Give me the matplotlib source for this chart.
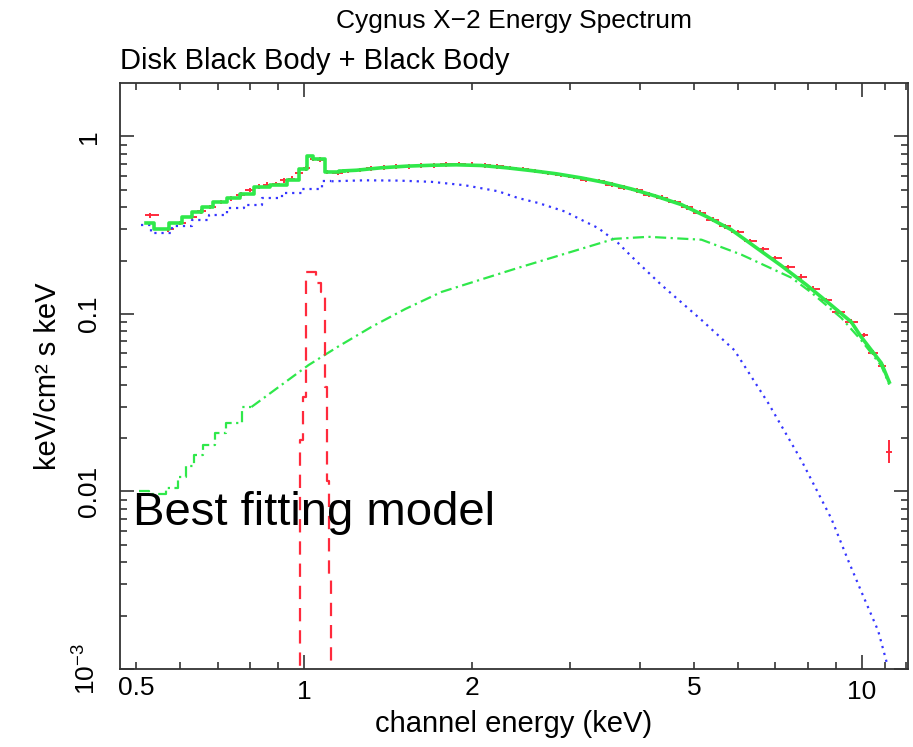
import matplotlib
matplotlib.use('Agg')
import matplotlib.pyplot as plt
from matplotlib.ticker import FixedLocator, NullFormatter

plt.rcParams['font.family'] = ['Liberation Sans', 'DejaVu Sans']
plt.rcParams['mathtext.fontset'] = 'custom'
plt.rcParams['mathtext.rm'] = 'Liberation Sans'

# total model (diskbb + bbody + gaussian), keV / flux
model_e = [0.521, 0.555, 0.591, 0.616, 0.642, 0.669, 0.704, 0.749, 0.789, 0.839,
           0.902, 0.960, 1.000, 1.023, 1.053, 1.132, 1.180, 1.242, 1.377, 1.526,
           1.692, 1.876, 2.080, 2.306, 2.557, 2.835, 3.143, 3.485, 3.864, 4.283,
           4.749, 5.265, 5.837, 6.471, 7.174, 7.954, 8.818, 9.576, 9.98, 10.40,
           10.84, 11.20]
model_f = [0.327, 0.301, 0.327, 0.353, 0.377, 0.402, 0.430, 0.452, 0.477, 0.522,
           0.536, 0.572, 0.652, 0.774, 0.751, 0.629, 0.640, 0.645, 0.666, 0.680,
           0.688, 0.692, 0.686, 0.666, 0.642, 0.616, 0.584, 0.548, 0.506, 0.460,
           0.413, 0.354, 0.298, 0.236, 0.187, 0.146, 0.112, 0.0901, 0.0741, 0.0626,
           0.0529, 0.0413]

# disk black body component
disk_e = [0.511, 0.555, 0.603, 0.655, 0.697, 0.757, 0.805, 0.875, 0.950, 1.031,
          1.120, 1.285, 1.475, 1.692, 1.942, 2.229, 2.420, 2.629, 2.934, 3.186,
          3.367, 3.657, 3.864, 4.37, 5.16, 5.91, 6.80, 7.79, 8.82, 9.46,
          10.0, 10.7, 11.1]
disk_f = [0.315, 0.287, 0.311, 0.340, 0.362, 0.397, 0.413, 0.452, 0.483, 0.508,
          0.559, 0.566, 0.564, 0.555, 0.531, 0.491, 0.450, 0.422, 0.378, 0.332,
          0.305, 0.251, 0.211, 0.146, 0.0925, 0.0625, 0.0314, 0.0150, 0.00703, 0.00407,
          0.00269, 0.00164, 0.00107]

# black body component
bb_e = [0.507, 0.548, 0.584, 0.603, 0.624, 0.647, 0.674, 0.711, 0.741, 0.805,
        1.019, 1.148, 1.321, 1.520, 1.764, 2.423, 3.602, 4.144, 5.16, 6.08,
        7.48, 8.12, 9.19, 9.98, 10.84, 11.2]
bb_f = [0.0100, 0.0097, 0.0105, 0.0120, 0.0140, 0.0160, 0.0182, 0.0213, 0.0242, 0.0299,
        0.0515, 0.0651, 0.0845, 0.1067, 0.133, 0.182, 0.265, 0.272, 0.262, 0.216,
        0.160, 0.132, 0.095, 0.071, 0.051, 0.040]

# gaussian line near 1 keV
gauss_e = [0.975, 0.993, 1.002, 1.019, 1.044, 1.062, 1.084, 1.095, 1.104, 1.113, 1.125]
gauss_f = [0.0008, 0.0194, 0.034, 0.173, 0.173, 0.150, 0.133, 0.039, 0.0115, 0.0034, 0.0008]

# observed spectrum
data_e = [0.529, 0.57, 0.60, 0.63, 0.655, 0.68, 0.71, 0.74, 0.77, 0.80,
          0.83, 0.86, 0.89, 0.92, 0.95, 0.98, 1.01, 1.04, 1.07, 1.10,
          1.15, 1.20, 1.26, 1.32, 1.39, 1.46, 1.54, 1.62, 1.71, 1.80,
          1.90, 2.00, 2.11, 2.22, 2.34, 2.47, 2.60, 2.74, 2.89, 3.05,
          3.21, 3.38, 3.56, 3.75, 3.95, 4.16, 4.38, 4.62, 4.86, 5.12,
          5.40, 5.69, 5.99, 6.31, 6.65, 7.00, 7.38, 7.77, 8.19, 8.62,
          9.08, 9.57, 10.08, 10.46, 10.90, 11.2]
data_f = [0.359, 0.300, 0.325, 0.352, 0.378, 0.400, 0.428, 0.448, 0.470, 0.500,
          0.522, 0.535, 0.540, 0.565, 0.578, 0.620, 0.660, 0.750, 0.740, 0.630,
          0.625, 0.640, 0.648, 0.660, 0.668, 0.675, 0.678, 0.685, 0.688, 0.695,
          0.700, 0.694, 0.686, 0.678, 0.665, 0.655, 0.638, 0.622, 0.608, 0.590,
          0.572, 0.560, 0.535, 0.515, 0.498, 0.470, 0.452, 0.428, 0.398, 0.372,
          0.340, 0.312, 0.290, 0.258, 0.232, 0.206, 0.184, 0.162, 0.139, 0.120,
          0.103, 0.0905, 0.076, 0.0605, 0.0508, 0.0167]
data_rel_err = 0.03
last_err = (0.0023, 0.0028)

red = '#ff2a3c'
green = '#2fe84a'
blue = '#3535ff'


def draw(ax, e, f, n_step, **kw):
    # binned (stepped) at low energy, smooth curve above
    ax.plot(e[:n_step], f[:n_step], drawstyle='steps-mid', **kw)
    ax.plot(e[n_step - 1:], f[n_step - 1:], **kw)


fig = plt.figure(figsize=(9.13, 7.47), dpi=100)
ax = fig.add_axes([0.1314, 0.1044, 0.8631, 0.7845])
ax.set_xscale('log')
ax.set_yscale('log')

# half bin widths from neighbouring channels
xl, xr = [], []
for i, e in enumerate(data_e):
    lo = data_e[i - 1] if i > 0 else e * 0.96
    hi = data_e[i + 1] if i < len(data_e) - 1 else e * 1.02
    xl.append((e - lo) / 2)
    xr.append((hi - e) / 2)
yl = [f * data_rel_err for f in data_f]
yh = list(yl)
yl[-1], yh[-1] = last_err

ax.errorbar(data_e, data_f, xerr=[xl, xr], yerr=[yl, yh], fmt='none',
            ecolor=red, elinewidth=1.4, capsize=0, zorder=2)
draw(ax, model_e, model_f, 17, color=green, lw=2.6, zorder=3)
draw(ax, disk_e, disk_f, 11, color=blue, lw=1.6, ls=(0, (1, 2.2)), zorder=2)
draw(ax, bb_e, bb_f, 10, color=green, lw=1.6, ls=(0, (5, 2, 1, 2)), zorder=2)
ax.plot(gauss_e, gauss_f, color=red, lw=1.6, ls=(0, (6, 4)), drawstyle='steps-mid', zorder=2)

ax.set_xlim(0.468, 12.1)
ax.set_ylim(1e-3, 2.0)

ax.xaxis.set_minor_locator(FixedLocator([0.5, 0.6, 0.7, 0.8, 0.9, 2, 3, 4, 5, 6, 7, 8, 9, 11, 12]))
ax.xaxis.set_minor_formatter(NullFormatter())
ax.set_xticks([1, 10])
ax.set_xticklabels(['1', '10'])
for v, s in [(0.5, '0.5'), (2, '2'), (5, '5')]:
    ax.text(v, -0.012, s, transform=ax.get_xaxis_transform(), ha='center', va='top', fontsize=19)

ax.yaxis.set_minor_locator(FixedLocator([k * 10.0 ** d for d in range(-3, 1) for k in range(2, 10) if k * 10.0 ** d < 2]))
ax.yaxis.set_minor_formatter(NullFormatter())
ax.set_yticks([1e-3, 1e-2, 1e-1, 1])
ax.set_yticklabels([r'$\mathregular{10^{-3}}$', '0.01', '0.1', '1'], rotation=90, va='center')

ax.tick_params(which='both', direction='in', top=True, right=True, width=1.2, labelsize=19,
               color='#333333')
ax.tick_params(which='major', length=10)
ax.tick_params(which='minor', length=5)
ax.tick_params(axis='x', pad=8)
ax.tick_params(axis='y', pad=14)
for sp in ax.spines.values():
    sp.set_linewidth(1.3)
    sp.set_color('#333333')

ax.set_xlabel('channel energy (keV)', fontsize=21, labelpad=4)
ax.set_ylabel('keV/cm² s keV', fontsize=21, labelpad=8)

fig.text(0.563, 0.972, 'Cygnus X\u22122 Energy Spectrum', ha='center', va='center', fontsize=19)
fig.text(0.1314, 0.918, 'Disk Black Body + Black Body', ha='left', va='center', fontsize=21)
fig.text(133 / 913, 1 - 525 / 747, 'Best fitting model', ha='left', va='baseline', fontsize=34)

fig.savefig('out.png', dpi=100)
